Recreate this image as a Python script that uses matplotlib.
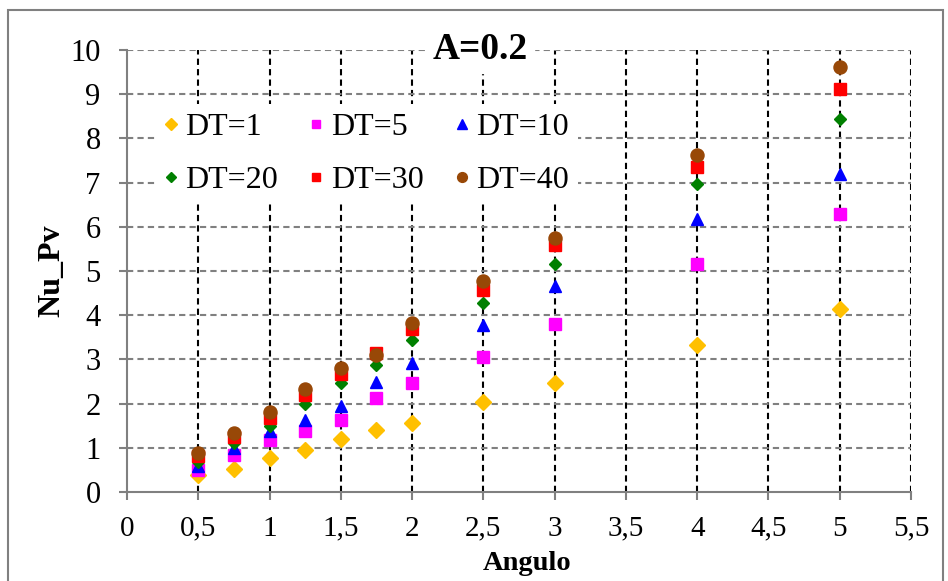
# Nu_Pv vs Angulo, A=0.2 - scatter per DT
import matplotlib.pyplot as plt
from matplotlib.patches import Rectangle

plt.rcParams['font.family'] = ['Liberation Serif', 'DejaVu Serif']

# data
angulo = [0.5, 0.75, 1, 1.25, 1.5, 1.75, 2, 2.5, 3, 4, 5]
dt1 = [0.38, 0.53, 0.78, 0.95, 1.20, 1.40, 1.56, 2.04, 2.47, 3.33, 4.14]
dt5 = [0.51, 0.85, 1.18, 1.39, 1.64, 2.13, 2.46, 3.05, 3.80, 5.16, 6.28]
dt10 = [0.59, 0.99, 1.39, 1.63, 1.95, 2.50, 2.93, 3.79, 4.67, 6.17, 7.19]
dt20 = [0.69, 1.12, 1.49, 1.99, 2.46, 2.88, 3.44, 4.27, 5.17, 6.96, 8.44]
dt30 = [0.82, 1.25, 1.68, 2.19, 2.66, 3.14, 3.68, 4.57, 5.59, 7.36, 9.12]
dt40 = [0.88, 1.34, 1.82, 2.33, 2.80, 3.10, 3.83, 4.78, 5.74, 7.62, 9.62]

series = [
    ("DT=1", dt1, "D", "#FFC000", 8.2),
    ("DT=5", dt5, "s", "#FF00FF", 8.6),
    ("DT=10", dt10, "^", "#0000FF", 9.0),
    ("DT=20", dt20, "D", "#008000", 6.4),
    ("DT=30", dt30, "s", "#FF0000", 8.6),
    ("DT=40", dt40, "o", "#984807", 9.4),
]

fig = plt.figure(figsize=(9.48, 5.81), dpi=100)
ax = fig.add_axes([0.134, 0.153, 0.827, 0.761])

handles = []
for label, vals, mk, col, ms in series:
    h, = ax.plot(angulo, vals, linestyle="none", marker=mk, color=col,
                 markersize=ms, label=label, zorder=3)
    handles.append(h)

ax.set_xlim(0, 5.5)
ax.set_ylim(0, 10)
ax.set_xticks([i * 0.5 for i in range(12)])
ax.set_xticklabels(["0", "0,5", "1", "1,5", "2", "2,5", "3", "3,5", "4", "4,5", "5", "5,5"])
ax.set_yticks(range(11))

# grid: black dashed verticals, grey dashed horizontals
for xv in [i * 0.5 for i in range(1, 12)]:
    ax.axvline(xv, color="black", linestyle=(0, (3, 2)), linewidth=1.5, zorder=1)
for yv in range(1, 11):
    ax.axhline(yv, color="#808080", linestyle=(0, (3, 2)), linewidth=1.5, zorder=1)

for side in ["top", "right"]:
    ax.spines[side].set_visible(False)
for side in ["left", "bottom"]:
    ax.spines[side].set_color("#808080")
    ax.spines[side].set_linewidth(1.5)

ax.tick_params(axis="both", which="major", direction="out", length=6,
               width=1.5, color="#808080", labelsize=21, pad=11)
ax.tick_params(axis="y", labelsize=22, pad=13)

ax.set_xlabel("Angulo", fontsize=20.5, fontweight="bold", labelpad=7, x=0.51)
ax.set_ylabel("Nu_Pv", fontsize=23, fontweight="bold", labelpad=3)

ax.text(2.48, 10, "A=0.2", fontsize=27, fontweight="bold", ha="center",
        va="center", backgroundcolor="white", zorder=4)

# legend filled row by row: DT=1 DT=5 DT=10 / DT=20 DT=30 DT=40
order = [0, 3, 1, 4, 2, 5]
leg = ax.legend([handles[i] for i in order], [series[i][0] for i in order],
                ncol=3, loc="upper left", bbox_to_anchor=(0.015, 0.915),
                fontsize=23, frameon=True, fancybox=False, edgecolor="none",
                facecolor="white", framealpha=1, handlelength=0.4,
                handletextpad=0.25, columnspacing=1.0, markerscale=0.75,
                labelspacing=0.72, borderpad=0.3)
leg.set_zorder(5)

# outer chart frame
fig.patches.append(Rectangle((8 / 948, -0.05), 935 / 948, 1.05 - 10 / 581,
                             transform=fig.transFigure, fill=False,
                             edgecolor="#808080", linewidth=1.5))

plt.savefig("out.png", dpi=100)
